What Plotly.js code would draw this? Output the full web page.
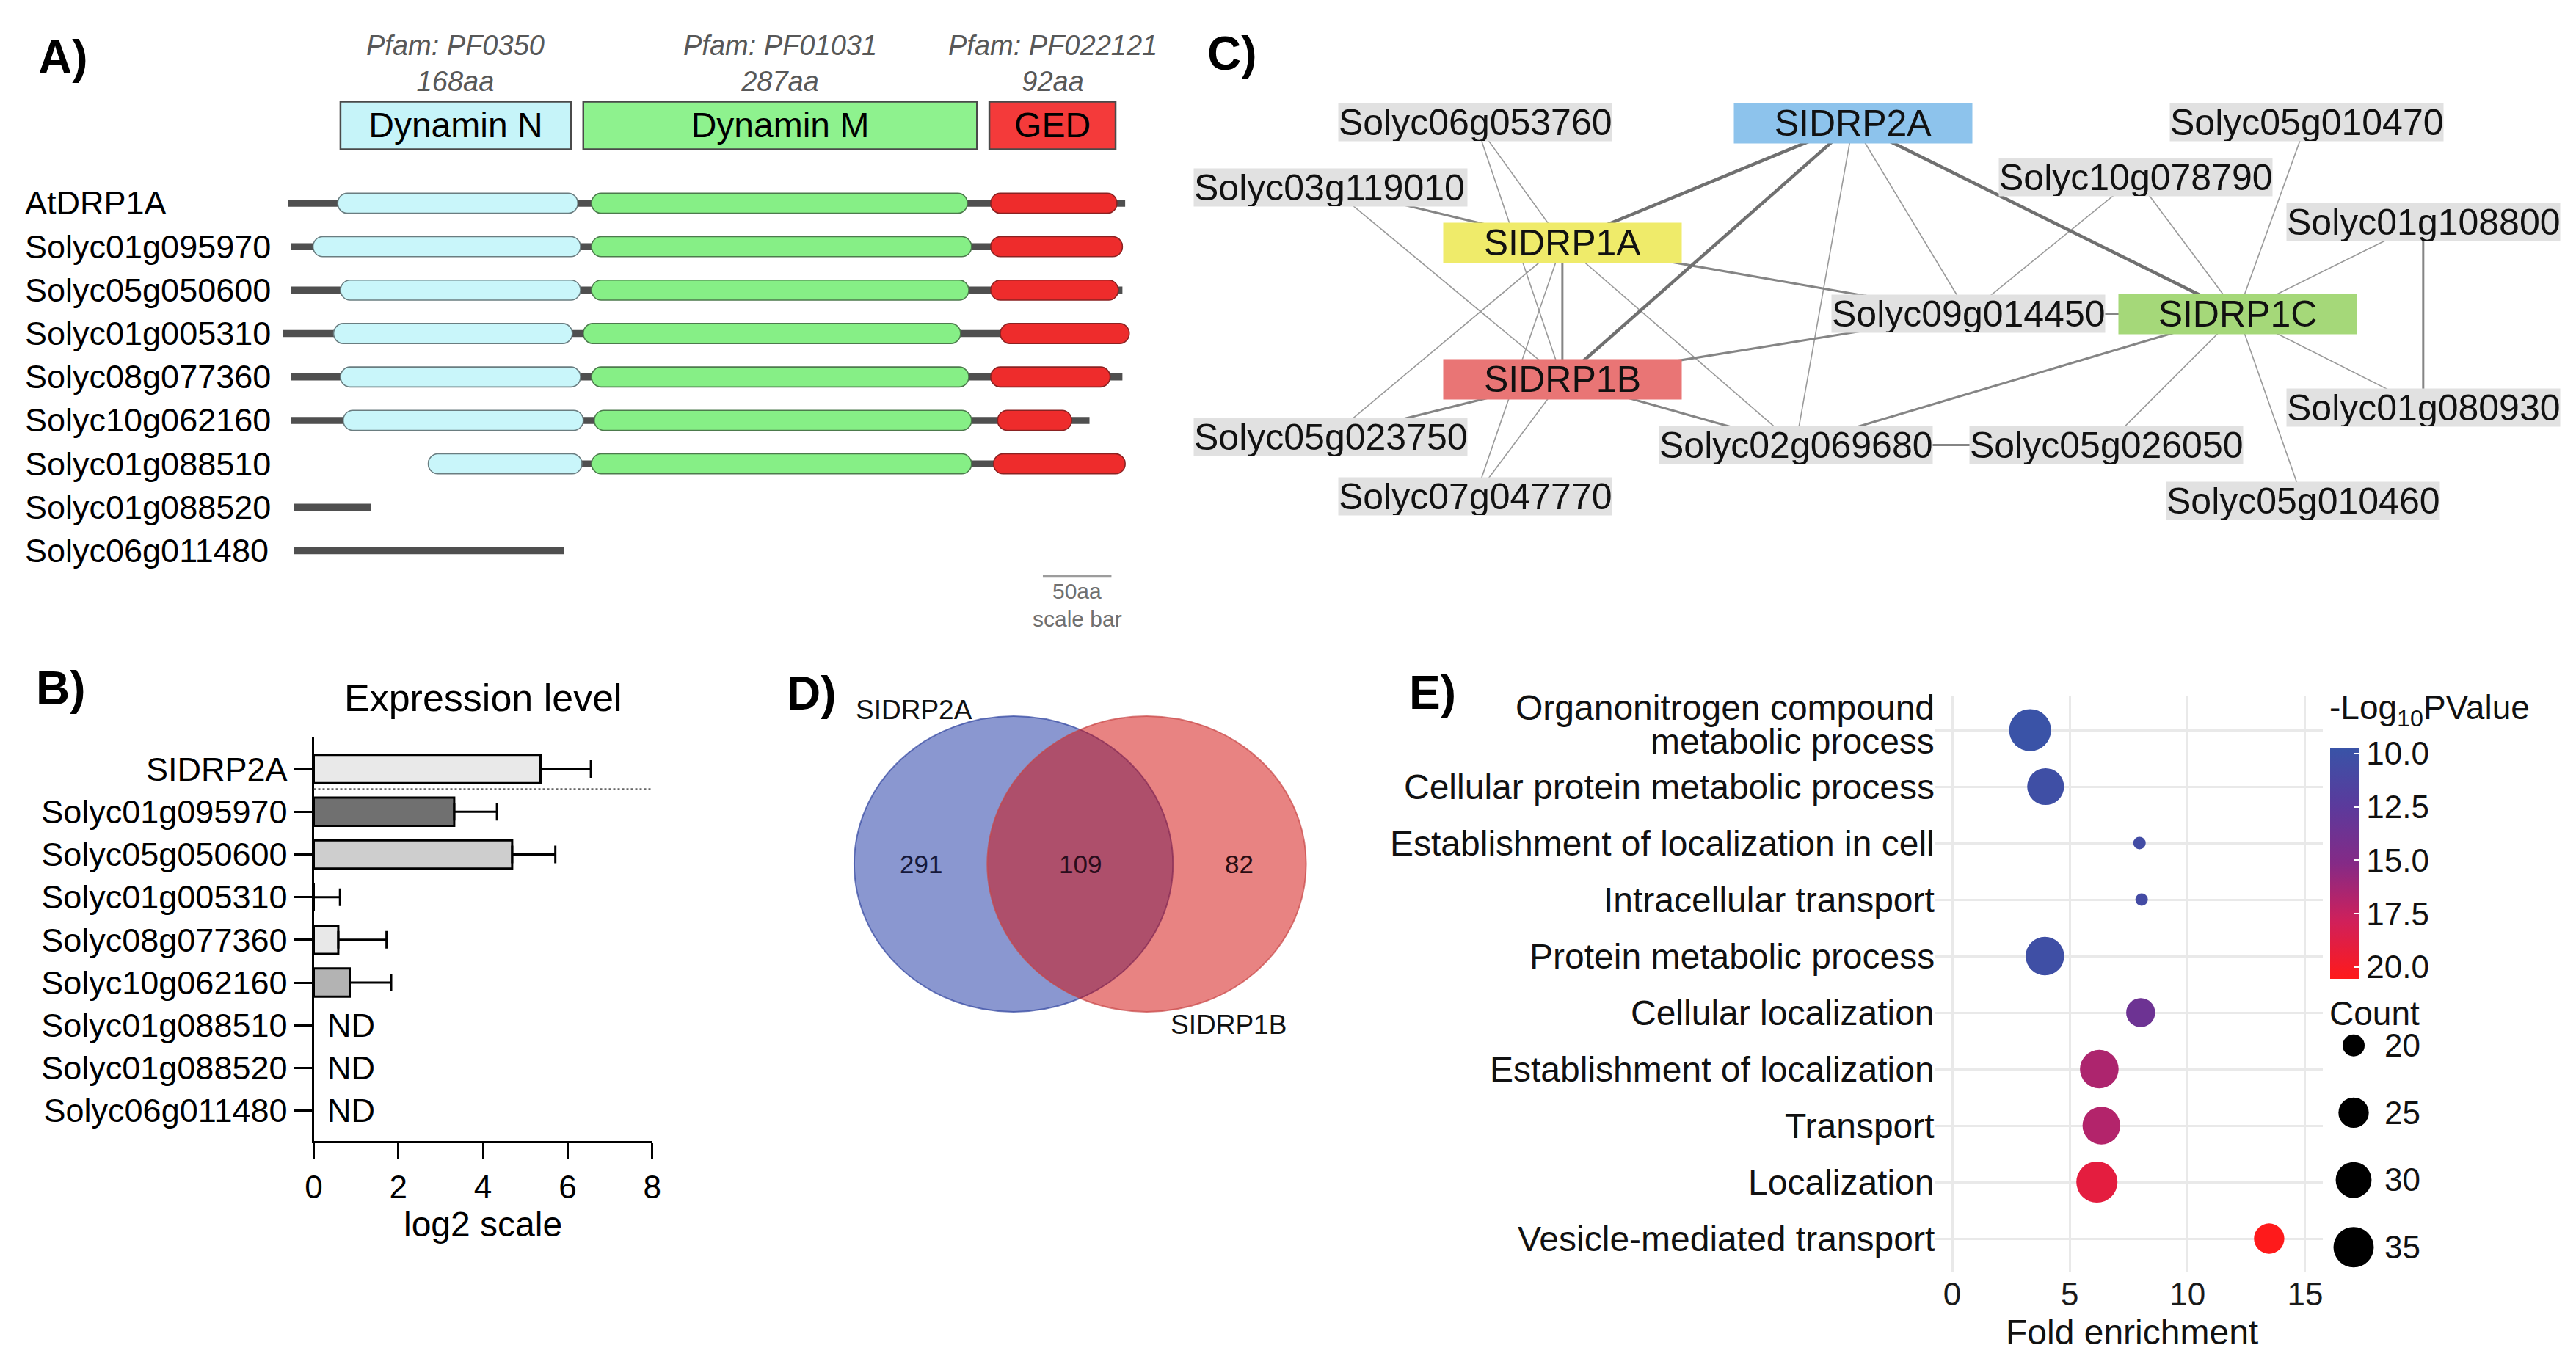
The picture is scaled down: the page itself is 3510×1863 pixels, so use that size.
<!DOCTYPE html>
<html><head><meta charset="utf-8">
<script src="https://cdn.plot.ly/plotly-3.0.1.min.js"></script>
<style>html,body{margin:0;padding:0;background:#fff}#chart{width:3510px;height:1863px}</style>
</head><body><div id="chart"></div>
<script>
// ---------------- Panel A: domain architecture (amino-acid positions) ----------------
const protNames = ['AtDRP1A','Solyc01g095970','Solyc05g050600','Solyc01g005310','Solyc08g077360','Solyc10g062160','Solyc01g088510','Solyc01g088520','Solyc06g011480'];
const backboneStart = [0, 2, 2, -4, 2, 2, 102, 4, 4];
const backboneEnd   = [610, 608, 608, 613, 608, 584, 610, 60, 201];
const dynNStart = [36, 18, 38, 33, 38, 40, 102, null, null];
const dynNEnd   = [211, 213, 213, 207, 213, 215, 214, null, null];
const dynMStart = [221, 221, 221, 215, 221, 223, 221, null, null];
const dynMEnd   = [495, 498, 496, 490, 496, 498, 498, null, null];
const gedStart  = [512, 512, 512, 519, 512, 517, 514, null, null];
const gedEnd    = [604, 608, 605, 613, 599, 571, 610, null, null];
const domainNames = ['Dynamin N', 'Dynamin M', 'GED'];
const pfamIds = ['Pfam: PF0350', 'Pfam: PF01031', 'Pfam: PF022121'];
const domainLengths = [168, 287, 92];
const domainHeaderStart = [38, 215, 511];
const scaleBarAA = 50;

// ---------------- Panel B: expression level ----------------
const exprGenes = ['SIDRP2A','Solyc01g095970','Solyc05g050600','Solyc01g005310','Solyc08g077360','Solyc10g062160','Solyc01g088510','Solyc01g088520','Solyc06g011480'];
const exprValues = [5.36, 3.32, 4.69, 0.0, 0.58, 0.85, null, null, null];
const exprErrors = [1.19, 1.01, 1.02, 0.62, 1.14, 0.98, null, null, null];

// ---------------- Panel C: interaction network ----------------
const nodeNames = ['SIDRP2A','SIDRP1A','SIDRP1B','SIDRP1C','Solyc06g053760','Solyc03g119010','Solyc10g078790','Solyc05g010470','Solyc01g108800','Solyc09g014450','Solyc01g080930','Solyc05g023750','Solyc02g069680','Solyc05g026050','Solyc07g047770','Solyc05g010460'];
const nodeX = [1128, 951, 951, 1362, 898, 810, 1300, 1404, 1475, 1198, 1475, 810, 1093, 1282, 898, 1402];
const nodeY = [75, 148, 231, 191, 74.5, 114, 108, 74.5, 135, 191, 248, 266, 271, 271, 302, 305];
const edgeFrom = ['SIDRP2A','SIDRP2A','SIDRP2A','SIDRP2A','SIDRP2A','SIDRP1A','Solyc03g119010','SIDRP1A','SIDRP1B','SIDRP1B','SIDRP1B','SIDRP1C','Solyc02g069680','Solyc01g108800','Solyc09g014450','Solyc06g053760','Solyc06g053760','Solyc03g119010','SIDRP1A','SIDRP1A','SIDRP1A','SIDRP1B','Solyc10g078790','Solyc10g078790','Solyc05g010470','Solyc01g108800','SIDRP1C','SIDRP1C','SIDRP1C'];
const edgeTo   = ['SIDRP1A','SIDRP1B','SIDRP1C','Solyc09g014450','Solyc02g069680','SIDRP1B','SIDRP1A','Solyc09g014450','Solyc09g014450','Solyc05g023750','Solyc02g069680','Solyc02g069680','Solyc05g026050','Solyc01g080930','SIDRP1C','SIDRP1A','SIDRP1B','SIDRP1B','Solyc05g023750','Solyc07g047770','Solyc02g069680','Solyc07g047770','Solyc09g014450','SIDRP1C','SIDRP1C','SIDRP1C','Solyc01g080930','Solyc05g010460','Solyc05g026050'];
const edgeWeight = [3,3,3,1,1,2,2,2,2,2,2,2,2,2,2,1,1,1,1,1,1,1,1,1,1,1,1,1,1];

// ---------------- Panel D: Venn ----------------
const vennSets = ['SIDRP2A', 'SIDRP1B'];
const vennCounts = [291, 109, 82];

// ---------------- Panel E: GO enrichment ----------------
const goTerms = ['Organonitrogen compound<br>metabolic process','Cellular protein metabolic process','Establishment of localization in cell','Intracellular transport','Protein metabolic process','Cellular localization','Establishment of localization','Transport','Localization','Vesicle-mediated transport'];
const foldEnrichment = [3.31, 3.97, 7.96, 8.05, 3.94, 8.01, 6.25, 6.34, 6.15, 13.47];
const negLog10P = [9.8, 10.2, 10.5, 10.6, 10.2, 13.6, 16.6, 16.8, 19.0, 20.5];
const termCounts = [37, 31, 18, 18, 33, 24, 33, 32, 36, 25];
const countKeys = [20, 25, 30, 35];

// ================= layout helpers =================
const W = 3510, H = 1863;
const fx = p => p / W;
const fy = p => 1 - p / H;
const FONT = 'Liberation Sans, Arial, Helvetica, sans-serif';
const traces = [];
const shapes = [];
const annotations = [];

function panelLabel(t, x, y) {
  annotations.push({xref:'paper', yref:'paper', x: fx(x), y: fy(y), text: '<b>' + t + '</b>', showarrow:false,
    xanchor:'center', yanchor:'middle', font:{size:64, color:'#000', family:FONT}});
}

// ================= Panel A =================
const rowIdx = protNames.map((_, i) => i);
traces.push({type:'bar', orientation:'h', xaxis:'x', yaxis:'y', y: rowIdx, base: backboneStart,
  x: backboneEnd.map((e, i) => e - backboneStart[i]), width: 0.16,
  marker:{color:'#4f4f4f', line:{width:0}}, hoverinfo:'skip', showlegend:false});
const headerFill = ['#c6f4f9', '#8ef28e', '#f43a3a'];
traces.push({type:'bar', orientation:'h', xaxis:'x', yaxis:'y', y: domainNames.map(() => -1.79),
  base: domainHeaderStart, x: domainLengths, width: 1.1, text: domainNames,
  textposition:'inside', insidetextanchor:'middle', constraintext:'none',
  insidetextfont:{size:48, color:'#000', family:FONT},
  marker:{color: headerFill, line:{color:'#4a4a4a', width:2.5}}, hoverinfo:'skip', showlegend:false});
domainNames.forEach((d, j) => {
  annotations.push({xref:'x', yref:'y', x: domainHeaderStart[j] + domainLengths[j] / 2, y: -3.22,
    text: '<i>' + pfamIds[j] + '</i><br><i>' + domainLengths[j] + 'aa</i>', showarrow:false,
    font:{size:38, color:'#585858', family:FONT}, xanchor:'center', yanchor:'middle'});
});
function capsule(x0, x1, yc, h, rx) {
  const ry = h / 2, y0 = yc - ry, y1 = yc + ry, k = 0.5523;
  return `M${x0 + rx},${y0} L${x1 - rx},${y0} C${x1 - rx + k * rx},${y0} ${x1},${yc - k * ry} ${x1},${yc} ` +
         `C${x1},${yc + k * ry} ${x1 - rx + k * rx},${y1} ${x1 - rx},${y1} L${x0 + rx},${y1} ` +
         `C${x0 + rx - k * rx},${y1} ${x0},${yc + k * ry} ${x0},${yc} C${x0},${yc - k * ry} ${x0 + rx - k * rx},${y0} ${x0 + rx},${y0} Z`;
}
const domStyle = [
  {s: dynNStart, e: dynNEnd, fill:'#c9f6fa', line:'#6a7d80'},
  {s: dynMStart, e: dynMEnd, fill:'#86ef86', line:'#4c7a4c'},
  {s: gedStart,  e: gedEnd,  fill:'#ee2c2c', line:'#8a2222'}];
domStyle.forEach(ds => {
  protNames.forEach((p, i) => {
    if (ds.s[i] === null) return;
    shapes.push({type:'path', xref:'x', yref:'y', layer:'above', path: capsule(ds.s[i], ds.e[i], i, 0.46, 7),
      fillcolor: ds.fill, line:{color: ds.line, width:1.6}});
  });
});
protNames.forEach((p, i) => {
  annotations.push({xref:'paper', yref:'y', x: fx(32), y: i, text: p, showarrow:false, xanchor:'left', yanchor:'middle',
    font:{size:45, color:'#000', family:FONT}});
});
traces.push({type:'scatter', mode:'lines', xaxis:'x', yaxis:'y', x:[550, 550 + scaleBarAA], y:[8.59, 8.59],
  line:{color:'#9c9c9c', width:3.5}, hoverinfo:'skip', showlegend:false});
annotations.push({xref:'x', yref:'y', x: 550 + scaleBarAA / 2, y: 8.93, text: scaleBarAA + 'aa', showarrow:false,
  xanchor:'center', font:{size:30, color:'#707070', family:FONT}});
annotations.push({xref:'x', yref:'y', x: 550 + scaleBarAA / 2, y: 9.57, text: 'scale bar', showarrow:false,
  xanchor:'center', font:{size:30, color:'#707070', family:FONT}});
panelLabel('A)', 86, 78);

// ================= Panel B =================
const exprFill = ['#e9e9e9', '#707070', '#cecece', '#dcdcdc', '#e8e8e8', '#b3b3b3', '#fff', '#fff', '#fff'];
traces.push({type:'bar', orientation:'h', xaxis:'x2', yaxis:'y2', y: exprGenes, x: exprValues, width: 0.66,
  marker:{color: exprFill, line:{color:'#000', width:3}},
  error_x:{type:'data', array: exprErrors, arrayminus: exprErrors.map(() => 0), symmetric:false,
    color:'#000', thickness:3, width:12},
  hoverinfo:'skip', showlegend:false, cliponaxis:false});
exprGenes.forEach((g, i) => {
  if (exprValues[i] === null) annotations.push({xref:'x2', yref:'y2', x: 0.28, y: g, text:'ND', showarrow:false,
    xanchor:'left', yanchor:'middle', font:{size:45, color:'#000', family:FONT}});
});
shapes.push({type:'line', xref:'x2', yref:'y2', x0:0, x1:8, y0:0.47, y1:0.47, line:{color:'#666', width:2.5, dash:'dot'}});
annotations.push({xref:'paper', yref:'paper', x: fx(658), y: fy(951), text:'Expression level', showarrow:false,
  xanchor:'center', yanchor:'middle', font:{size:52, color:'#000', family:FONT}});
annotations.push({xref:'paper', yref:'paper', x: fx(658), y: fy(1668), text:'log2 scale', showarrow:false,
  xanchor:'center', yanchor:'middle', font:{size:48, color:'#000', family:FONT}});
panelLabel('B)', 83, 938);

// ================= Panel C =================
const nodeIndex = {};
nodeNames.forEach((n, i) => nodeIndex[n] = i);
const edgeStyles = {1:{w:1.6, c:'#9a9a9a'}, 2:{w:3, c:'#858585'}, 3:{w:4.5, c:'#707070'}};
[1, 2, 3].forEach(wt => {
  const xs = [], ys = [];
  edgeFrom.forEach((f, k) => {
    if (edgeWeight[k] !== wt) return;
    const a = nodeIndex[f], b = nodeIndex[edgeTo[k]];
    xs.push(nodeX[a], nodeX[b], null); ys.push(nodeY[a], nodeY[b], null);
  });
  traces.push({type:'scatter', mode:'lines', xaxis:'x3', yaxis:'y3', x: xs, y: ys,
    line:{color: edgeStyles[wt].c, width: edgeStyles[wt].w}, hoverinfo:'skip', showlegend:false, cliponaxis:false});
});
const hubColor = {'SIDRP2A':'#8dc3ec', 'SIDRP1A':'#efeb6a', 'SIDRP1B':'#e97575', 'SIDRP1C':'#a5d879'};
nodeNames.forEach((n, i) => {
  const hub = hubColor[n] !== undefined;
  annotations.push({xref:'x3', yref:'y3', x: nodeX[i], y: nodeY[i], text: n, showarrow:false,
    bgcolor: hub ? hubColor[n] : '#e1e1e1', width: hub ? 324 : 372, height: hub ? 54 : 51,
    align: hub ? 'center' : 'left', valign:'middle', borderpad:0, xanchor:'center', yanchor:'middle',
    font:{size:50, color:'#111', family:FONT}});
});
panelLabel('C)', 1679, 73);

// ================= Panel D =================
const vL = {x0:520, x1:714, y0:436, y1:616};
const vR = {x0:601, x1:795, y0:436, y1:616};
shapes.push({type:'circle', xref:'x4', yref:'y4', x0:vL.x0, x1:vL.x1, y0:vL.y0, y1:vL.y1,
  fillcolor:'rgba(21,47,161,0.5)', line:{color:'rgba(50,70,160,0.7)', width:2}, layer:'below'});
shapes.push({type:'circle', xref:'x4', yref:'y4', x0:vR.x0, x1:vR.x1, y0:vR.y0, y1:vR.y1,
  fillcolor:'rgba(209,8,6,0.5)', line:{color:'rgba(200,70,70,0.7)', width:2}, layer:'below'});
const vCy = (vL.y0 + vL.y1) / 2;
const vennX = [(vL.x0 + vR.x0) / 2, (vR.x0 + vL.x1) / 2, (vL.x1 + vR.x1) / 2];
const vennTextColor = ['#15183a', '#2a0d1c', '#2a0d12'];
vennCounts.forEach((c, i) => annotations.push({xref:'x4', yref:'y4', x: vennX[i], y: vCy, text: String(c),
  showarrow:false, xanchor:'center', font:{size:35, color: vennTextColor[i], family:FONT}}));
annotations.push({xref:'x4', yref:'y4', x: vL.x0, y: vL.y0 - 4, text: vennSets[0], showarrow:false,
  xanchor:'left', yanchor:'middle', font:{size:37, color:'#111', family:FONT}});
annotations.push({xref:'x4', yref:'y4', x: vR.x1 - 11, y: vR.y1 + 8, text: vennSets[1], showarrow:false,
  xanchor:'right', yanchor:'middle', font:{size:37, color:'#111', family:FONT}});
panelLabel('D)', 1106, 945);

// ================= Panel E =================
const sizeOf = c => 17 + 9.2 * Math.sqrt(Math.max(0, c - 18));
traces.push({type:'scatter', mode:'markers', xaxis:'x5', yaxis:'y5', x: foldEnrichment, y: goTerms,
  marker:{size: termCounts.map(sizeOf), sizemode:'diameter', color: negLog10P.map(v => -v),
    cmin:-20.55, cmax:-9.76, line:{width:0}, opacity:1,
    colorscale:[[0,'#ff1a1a'],[0.25,'#d0205a'],[0.5,'#852a86'],[0.75,'#5b3a9c'],[1,'#3953a7']],
    showscale:true,
    colorbar:{x: fx(3175), xanchor:'left', y: fy(1177), yanchor:'middle', len:314, lenmode:'pixels',
      thickness:40, thicknessmode:'pixels', outlinewidth:0, xpad:0, ypad:0,
      tickvals:[-10,-12.5,-15,-17.5,-20], ticktext:['10.0','12.5','15.0','17.5','20.0'],
      ticks:'inside', ticklen:8, tickwidth:2, tickcolor:'#ffffff', ticklabelstandoff:0,
      tickfont:{size:44, color:'#111', family:FONT}}},
  hoverinfo:'skip', showlegend:false, cliponaxis:false});
// GO term labels (right-aligned beside the panel; multi-line term gets tight line spacing)
goTerms.forEach((t, i) => {
  const parts = t.split('<br>');
  const offs = parts.length === 1 ? [0] : [-0.39, 0.2];
  parts.forEach((p, k) => annotations.push({xref:'paper', yref:'y5', x: fx(2638), y: i + offs[k], text: p,
    showarrow:false, xanchor:'right', yanchor:'middle', font:{size:48, color:'#111', family:FONT}}));
});
traces.push({type:'scatter', mode:'markers', xaxis:'x6', yaxis:'y6', x: countKeys.map(() => 0), y: countKeys.map(String),
  marker:{size: countKeys.map(sizeOf), sizemode:'diameter', color:'#000000', opacity:1, line:{width:0}},
  hoverinfo:'skip', showlegend:false, cliponaxis:false});
annotations.push({xref:'paper', yref:'paper', x: fx(3172), y: fy(967), text:'-Log<sub>10</sub>PValue', showarrow:false,
  xanchor:'left', yanchor:'middle', font:{size:46, color:'#111', family:FONT}});
annotations.push({xref:'paper', yref:'paper', x: fx(3172), y: fy(1381), text:'Count', showarrow:false,
  xanchor:'left', yanchor:'middle', font:{size:46, color:'#111', family:FONT}});
annotations.push({xref:'paper', yref:'paper', x: fx(2905), y: fy(1815), text:'Fold enrichment', showarrow:false,
  xanchor:'center', yanchor:'middle', font:{size:48, color:'#111', family:FONT}});
panelLabel('E)', 1952, 944);

// ================= layout =================
const hidden = {visible:false, fixedrange:true};
const layout = {
  width: W, height: H, margin:{l:0, r:0, t:0, b:0, pad:0},
  paper_bgcolor:'#ffffff', plot_bgcolor:'rgba(0,0,0,0)',
  font:{family: FONT, color:'#000'}, showlegend:false, barmode:'overlay',
  xaxis: Object.assign({}, hidden, {domain:[fx(374.2), fx(1589.2)], range:[-10, 640]}),
  yaxis: Object.assign({}, hidden, {domain:[fy(863), fy(22.4)], range:[9.9, -4.3]}),
  xaxis2: {domain:[fx(427.5), fx(888.7)], range:[0, 8], anchor:'y2', showline:true, linewidth:3, linecolor:'#000',
    ticks:'outside', ticklen:22, tickwidth:3, tickcolor:'#000', tickvals:[0,2,4,6,8], showgrid:false, zeroline:false,
    tickfont:{size:44, color:'#000', family:FONT}, fixedrange:true},
  yaxis2: {domain:[fy(1555), fy(1005)], type:'category', categoryorder:'array', categoryarray: exprGenes,
    range:[8.71, -0.74], anchor:'x2', showline:true, linewidth:3, linecolor:'#000', ticks:'outside', ticklen:24,
    tickwidth:3, tickcolor:'#000', showgrid:false, zeroline:false, tickfont:{size:45, color:'#000', family:FONT}, fixedrange:true},
  xaxis3: Object.assign({}, hidden, {domain:[fx(1567), 1], range:[700, 1568], anchor:'y3'}),
  yaxis3: Object.assign({}, hidden, {domain:[fy(738.7), fy(89.5)], range:[330, 40], anchor:'x3'}),
  xaxis4: Object.assign({}, hidden, {domain:[fx(1052), fx(1858)], range:[470, 830], anchor:'y4'}),
  yaxis4: Object.assign({}, hidden, {domain:[fy(1455), fy(895.4)], range:[650, 400], anchor:'x4'}),
  xaxis5: {domain:[fx(2636), fx(3165)], range:[-0.75, 15.75], anchor:'y5', tickvals:[0,5,10,15], ticks:'',
    showgrid:true, gridcolor:'#e9e9e9', gridwidth:3, zeroline:false, showline:false,
    tickfont:{size:44, color:'#1a1a1a', family:FONT}, fixedrange:true},
  yaxis5: {domain:[fy(1734.2), fy(948.8)], type:'category', categoryorder:'array', categoryarray: goTerms,
    range:[9.6, -0.6], anchor:'x5', ticks:'', showgrid:true, gridcolor:'#e9e9e9', gridwidth:3, zeroline:false,
    showline:false, showticklabels:false, fixedrange:true},
  xaxis6: Object.assign({}, hidden, {domain:[fx(3180), fx(3234)], range:[-1, 1], anchor:'y6'}),
  yaxis6: {domain:[fy(1730), fy(1400)], type:'category', categoryorder:'array', categoryarray: countKeys.map(String),
    range:[3.33, -0.27], anchor:'x6', side:'right', ticks:'', showgrid:false, zeroline:false, showline:false,
    ticklabelstandoff:14, tickfont:{size:44, color:'#111', family:FONT}, fixedrange:true},
  shapes: shapes,
  annotations: annotations
};
Plotly.newPlot('chart', traces, layout, {staticPlot:true, displayModeBar:false});
</script>
</body></html>
